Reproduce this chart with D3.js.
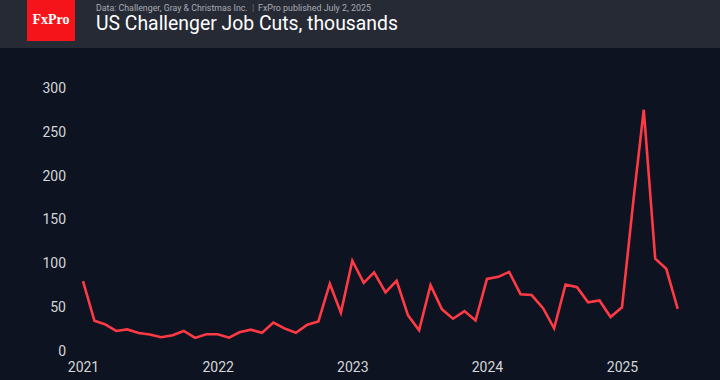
<!DOCTYPE html>
<html><head><meta charset="utf-8">
<script src="https://cdn.jsdelivr.net/npm/d3@7"></script>
<style>
html,body{margin:0;padding:0;background:#0d1320;}
svg{display:block;font-family:Roboto,"Noto Sans",sans-serif;}
</style></head><body>
<script>
const startYear = 2021;
const values = [
  79.6,34.5,30.6,22.9,24.6,20.5,18.9,15.7,17.9,22.8,14.9,19.1,
  19.1,15.2,21.4,24.3,20.7,32.5,25.8,20.8,29.9,33.8,76.8,43.7,
  103.0,77.8,89.7,66.9,80.1,40.7,23.7,75.2,47.5,36.8,45.5,34.8,
  82.3,84.6,90.3,64.8,63.8,48.8,25.9,75.9,72.8,55.6,57.7,38.8,
  49.8,172.0,275.2,105.4,93.8,48.0
];
const yTicks = [0,50,100,150,200,250,300];
const xTickYears = [2021,2022,2023,2024,2025];
const title = "US Challenger Job Cuts, thousands";
const subtitle = "Data: Challenger, Gray & Christmas Inc.";
const published = "FxPro published July 2, 2025";

const W=720,H=380;
const svg=d3.select("body").append("svg").attr("width",W).attr("height",H);
svg.append("rect").attr("width",W).attr("height",H).attr("fill","#0d1320");
svg.append("rect").attr("width",W).attr("height",48).attr("fill","#262a35");
svg.append("rect").attr("x",27).attr("y",0).attr("width",48).attr("height",41).attr("fill","#f5141a");
svg.append("text").attr("x",51).attr("y",24).attr("text-anchor","middle")
  .attr("fill","#fff").attr("font-family","'Liberation Serif','DejaVu Serif',serif")
  .attr("font-size",14).attr("font-weight","bold").text("FxPro");

function fitText(t, targetW){
  const w=t.node().getComputedTextLength();
  const fs=parseFloat(t.attr("font-size"));
  t.attr("font-size", fs*targetW/w);
}
const s1=svg.append("text").attr("x",96).attr("y",11).attr("font-size",10).attr("fill","#a9acb4").text(subtitle);
fitText(s1,152);
svg.append("text").attr("x",252).attr("y",11).attr("font-size",9).attr("fill","#6d7079").text("|");
const s2=svg.append("text").attr("x",258).attr("y",11).attr("font-size",10).attr("fill","#a9acb4").text(published);
fitText(s2,113);
const tt=svg.append("text").attr("x",96).attr("y",30).attr("font-size",19).attr("fill","#ffffff").text(title);
fitText(tt,302);

const dates = values.map((v,i)=>new Date(startYear, i, 1));
const x=d3.scaleTime().domain([new Date(2021,0,1),new Date(2025,0,1)]).range([83,622]);
const y=d3.scaleLinear().domain([0,300]).range([351,88]);

const yAxis=svg.append("g").attr("transform","translate(66,0)")
  .call(d3.axisLeft(y).tickValues(yTicks).tickSize(0).tickPadding(0));
yAxis.select(".domain").remove();
yAxis.selectAll("text").attr("fill","#d4d6da").attr("font-size",14).attr("font-family","Roboto,sans-serif");

const xAxis=svg.append("g").attr("transform","translate(0,362)")
  .call(d3.axisBottom(x).tickValues(xTickYears.map(yr=>new Date(yr,0,1))).tickFormat(d3.timeFormat("%Y")).tickSize(0).tickPadding(0));
xAxis.select(".domain").remove();
xAxis.selectAll("text").attr("fill","#d4d6da").attr("font-size",14).attr("font-family","Roboto,sans-serif");

const line=d3.line().x((d,i)=>x(dates[i])).y(d=>y(d));
svg.append("path").datum(values).attr("d",line).attr("fill","none")
  .attr("stroke","#ff3a45").attr("stroke-width",2.6).attr("stroke-linejoin","miter");
</script></body></html>
